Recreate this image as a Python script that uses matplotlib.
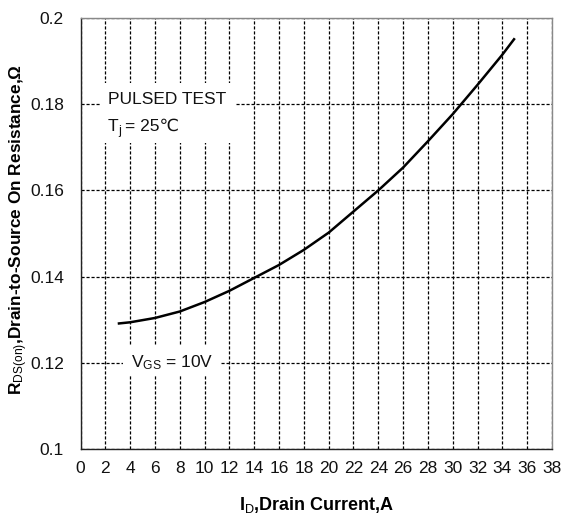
import matplotlib
matplotlib.use("Agg")
import matplotlib.pyplot as plt
from matplotlib.patches import Rectangle

plt.rcParams['font.family'] = ['Liberation Sans', 'DejaVu Sans']
plt.rcParams['mathtext.fontset'] = 'custom'
plt.rcParams['mathtext.rm'] = 'Liberation Sans'
plt.rcParams['mathtext.it'] = 'Liberation Sans'
plt.rcParams['mathtext.bf'] = 'Liberation Sans:bold'

# data
drain_current = [3, 4, 6, 8, 10, 12, 14, 16, 18, 20, 22, 24, 26, 28, 30, 32, 34, 35]
rds_on = [0.1291, 0.1294, 0.1304, 0.1319, 0.1341, 0.1367, 0.1397, 0.1427, 0.1462,
          0.1502, 0.1551, 0.1600, 0.1653, 0.1714, 0.1777, 0.1845, 0.1915, 0.1953]
x_ticks = list(range(0, 39, 2))
y_ticks = [0.10, 0.12, 0.14, 0.16, 0.18, 0.20]
y_tick_labels = ['0.1', '0.12', '0.14', '0.16', '0.18', '0.2']

fig = plt.figure(figsize=(5.62, 5.21), dpi=100)
ax = fig.add_axes([80.5/562, 1-449/521, (552-80.5)/562, (449-18)/521])

ax.set_xlim(0, 38)
ax.set_ylim(0.1, 0.2)
ax.set_xticks(x_ticks)
ax.set_yticks(y_ticks)
ax.set_yticklabels(y_tick_labels)
ax.tick_params(axis='both', length=0, labelsize=12.5, colors='#111111')
ax.tick_params(axis='x', pad=8.5)
ax.tick_params(axis='y', pad=12)

ax.grid(True, color='black', linestyle=(0, (2.5, 1.5)), linewidth=0.9, zorder=1)
ax.set_axisbelow(True)

for s in ['left', 'bottom']:
    ax.spines[s].set_color('#222222')
for s in ['top', 'right']:
    ax.spines[s].set_color('#888888')
for s in ax.spines.values():
    s.set_linewidth(1.0)

# white boxes covering grid behind annotations
ax.add_patch(Rectangle((1.6, 0.1710), 10.85, 0.0139, facecolor='white',
                       edgecolor='none', zorder=2))
ax.add_patch(Rectangle((3.44, 0.1172), 7.8, 0.0069, facecolor='white',
                       edgecolor='none', zorder=2))

ax.plot(drain_current, rds_on, color='black', linewidth=1.8, zorder=3,
        solid_capstyle='butt')

ax.text(2.2, 0.1801, 'PULSED TEST', fontsize=12.5, va='baseline', ha='left',
        color='#111111', zorder=4)
ax.text(2.2, 0.1738, 'T', fontsize=12.5, va='baseline', ha='left',
        color='#111111', zorder=4)
ax.text(3.05, 0.1731, 'j', fontsize=9, va='baseline', ha='left',
        color='#111111', zorder=4)
ax.text(3.55, 0.1738, '= 25℃', fontsize=12.5, va='baseline', ha='left',
        color='#111111', zorder=4)
ax.text(4.05, 0.1190, r'V$_{\mathrm{GS}}$ = 10V', fontsize=12.5, va='baseline',
        ha='left', color='#111111', zorder=4)

fig.text(317/562, 1-505/521, r'$\mathregular{I}_{\mathrm{D}}$,Drain Current,A',
         fontsize=13, fontweight='bold', ha='center', va='center')
fig.text(19/562, 1-230/521, r'$\mathregular{R}_{\mathrm{DS(on)}}$,Drain-to-Source On Resistance,Ω',
         fontsize=12.4, fontweight='bold', ha='center', va='center', rotation=90)

fig.savefig('out.png', dpi=100)
